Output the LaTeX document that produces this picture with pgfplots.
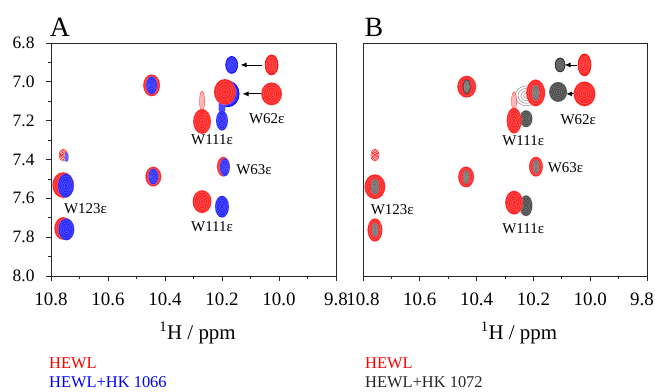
\documentclass[border=0pt]{standalone}
\usepackage{fontspec}
\setmainfont{Liberation Serif}
\usepackage{pgfplots}
\pgfplotsset{compat=1.18}
\usetikzlibrary{arrows.meta}

% filled contour peak: outer filled ellipse, thin light inner contours
\pgfdeclareplotmark{peak}{%
  \pgfpathellipse{\pgfpointorigin}{\pgfpoint{\rx*1bp}{0pt}}{\pgfpoint{0pt}{\ry*1bp}}%
  \pgfusepathqfillstroke
  \pgfsetlinewidth{0.3bp}%
  \pgfsetstrokecolor{white}%
  \pgfsetstrokeopacity{0.35}%
  \foreach \f in {0.8,0.6,0.4,0.2}{%
    \pgfpathellipse{\pgfpointorigin}{\pgfpoint{\f*\rx*1bp}{0pt}}{\pgfpoint{0pt}{\f*\ry*1bp}}%
    \pgfusepathqstroke}%
}
% open contour peak
\pgfdeclareplotmark{ring}{%
  \foreach \f in {1,0.75,0.5,0.25}{%
    \pgfpathellipse{\pgfpointorigin}{\pgfpoint{\f*\rx*1bp}{0pt}}{\pgfpoint{0pt}{\f*\ry*1bp}}%
    \pgfusepathqstroke}%
}

\tikzset{wlab/.style={font=\fontsize{15}{15}\selectfont, inner sep=0pt},
         leg/.style={anchor=west, inner sep=0pt, font=\fontsize{16.5}{16.5}\selectfont}}

\pgfplotsset{
  peaks/.style 2 args={only marks, mark=peak,
    mark options={draw=#1, fill=#2, line width=0.6bp},
    visualization depends on={\thisrow{rx} \as \rx},
    visualization depends on={\thisrow{ry} \as \ry}},
  rings/.style={only marks, mark=ring,
    mark options={draw=#1, line width=0.5bp},
    visualization depends on={\thisrow{rx} \as \rx},
    visualization depends on={\thisrow{ry} \as \ry}},
  nmr/.style={
    scale only axis, height=233bp,
    xmin=9.8, xmax=10.8, ymin=6.8, ymax=8.0,
    x dir=reverse, y dir=reverse,
    xtick={9.8,10.0,10.2,10.4,10.6,10.8},
    ytick={6.8,7.0,7.2,7.4,7.6,7.8,8.0},
    minor x tick num=1, minor y tick num=1,
    tick align=outside, xtick pos=bottom, ytick pos=left,
    major tick length=5bp, minor tick length=3bp,
    tick style={black!85, line width=0.8bp},
    axis line style={black!85, line width=0.8bp},
    /pgf/number format/assume math mode=true,
    /pgf/number format/fixed,
    /pgf/number format/fixed zerofill,
    /pgf/number format/precision=1,
    xticklabel style={font=\fontsize{19}{19}\selectfont, yshift=-8bp},
    yticklabel style={font=\fontsize{17.5}{17.5}\selectfont, xshift=-8bp},
    xlabel={\textsuperscript{1}H / ppm},
    xlabel style={font=\fontsize{21}{21}\selectfont, at={(axis description cs:0.5,0)}, anchor=center, yshift=-57bp, xshift=4bp},
    clip=false,
  },
}

\begin{document}
\begin{tikzpicture}
\path[use as bounding box] (0,0) rectangle (655bp,-392bp);

% ================= Panel A  (x ppm, y ppm, half-width, half-height in bp)
\begin{axis}[nmr, at={(51bp,-43bp)}, anchor=north west, width=285bp]
\addplot[peaks={blue}{blue!85}] table {
x y rx ry
10.180 7.062 11.5 13
10.200 7.130 3.5 8
};
\addplot[peaks={red!60}{red!35}] table {
x y rx ry
10.270 7.100 2.5 10
};
\addplot[peaks={red}{red!85}] table {
x y rx ry
10.026 6.913 6.5 10
10.026 7.062 10.5 11.5
10.190 7.052 11 13
10.270 7.204 9 12.5
10.447 7.018 8.5 11
10.757 7.532 11 13
10.757 7.755 9 11.5
10.441 7.488 8 10
10.195 7.437 6.5 10
10.270 7.617 9.5 11.5
};
\addplot[rings=red] table {
x y rx ry
10.757 7.377 4 6
};
\addplot[peaks={blue}{blue!85}] table {
x y rx ry
10.166 6.913 6 8.5
10.200 7.200 6 10
10.447 7.018 5.5 9
10.745 7.387 2 5
10.748 7.535 8 12
10.746 7.760 8 11
10.441 7.488 5 8
10.190 7.440 5 9
10.200 7.643 7 11
};
\draw[-{Latex[length=6bp,width=5bp]}, line width=0.8bp] (axis cs:10.058,6.913) -- (axis cs:10.135,6.913);
\draw[-{Latex[length=6bp,width=5bp]}, line width=0.8bp] (axis cs:10.058,7.062) -- (axis cs:10.128,7.062);
\node[wlab] at (axis cs:10.043,7.188) {W62ε};
\node[wlab] at (axis cs:10.235,7.300) {W111ε};
\node[wlab] at (axis cs:10.088,7.450) {W63ε};
\node[wlab] at (axis cs:10.235,7.747) {W111ε};
\node[wlab] at (axis cs:10.679,7.655) {W123ε};
\end{axis}

% ================= Panel B
\begin{axis}[nmr, at={(363bp,-43bp)}, anchor=north west, width=284bp,
  yticklabels={}, ytick=\empty, minor y tick num=0,
  xticklabels={{\hspace*{-10bp}9.8},10.0,10.2,10.4,10.6,10.8},
  xlabel style={xshift=10bp}]
\addplot[rings=black!45] table {
x y rx ry
10.225 7.072 11 10
};
\addplot[peaks={black!85}{black!70}] table {
x y rx ry
10.106 6.913 5 7
10.113 7.052 9 10
10.226 7.190 6.5 8.5
10.226 7.638 6.5 10.5
};
\addplot[peaks={red!60}{red!35}] table {
x y rx ry
10.268 7.100 2.5 9.5
};
\addplot[peaks={red}{red!85}] table {
x y rx ry
10.020 6.913 6.5 11
10.020 7.062 11 12.5
10.192 7.057 9.5 13.5
10.268 7.200 7.5 13
10.435 7.025 9.5 11
10.758 7.540 10.5 12.5
10.758 7.763 7.5 11.7
10.437 7.490 8 10.5
10.191 7.437 7 10
10.268 7.622 9 12
};
\addplot[rings=red] table {
x y rx ry
10.758 7.377 4 6
};
\addplot[peaks={black!75}{black!60}] table {
x y rx ry
10.435 7.025 3.5 7
10.758 7.540 4 8
10.758 7.763 3 7
10.437 7.490 3 7
10.191 7.437 3 7
10.192 7.057 3.5 8
};
\draw[-{Latex[length=6bp,width=5bp]}, line width=0.8bp] (axis cs:10.046,6.913) -- (axis cs:10.090,6.913);
\draw[-{Latex[length=6bp,width=5bp]}, line width=0.8bp] (axis cs:10.046,7.062) -- (axis cs:10.085,7.062);
\node[wlab] at (axis cs:10.042,7.197) {W62ε};
\node[wlab] at (axis cs:10.236,7.305) {W111ε};
\node[wlab] at (axis cs:10.087,7.440) {W63ε};
\node[wlab] at (axis cs:10.236,7.754) {W111ε};
\node[wlab] at (axis cs:10.697,7.660) {W123ε};
\end{axis}

% panel letters
\node[font=\fontsize{28}{28}\selectfont, inner sep=0pt] at (60bp,-27bp) {A};
\node[font=\fontsize{28}{28}\selectfont, inner sep=0pt] at (374bp,-27bp) {B};

% legends
\node[leg, text=red] at (49bp,-363bp) {HEWL};
\node[leg, text=blue] at (49bp,-382bp) {HEWL+HK 1066};
\node[leg, text=red] at (365bp,-363bp) {HEWL};
\node[leg, text=black!85] at (365bp,-382bp) {HEWL+HK 1072};
\end{tikzpicture}
\end{document}
